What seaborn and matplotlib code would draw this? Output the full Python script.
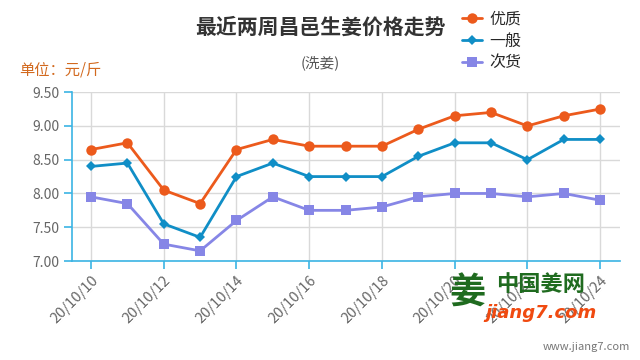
import matplotlib
matplotlib.use("Agg")
import matplotlib.pyplot as plt
import seaborn as sns
import pandas as pd

days = list(range(10, 25))
date_labels = [f"20/10/{d}" for d in days]
youzhi = [8.65, 8.75, 8.05, 7.85, 8.65, 8.80, 8.70, 8.70, 8.70, 8.95, 9.15, 9.20, 9.00, 9.15, 9.25]
yiban = [8.40, 8.45, 7.55, 7.35, 8.25, 8.45, 8.25, 8.25, 8.25, 8.55, 8.75, 8.75, 8.50, 8.80, 8.80]
cihuo = [7.95, 7.85, 7.25, 7.15, 7.60, 7.95, 7.75, 7.75, 7.80, 7.95, 8.00, 8.00, 7.95, 8.00, 7.90]
series_names = ["优质", "一般", "次货"]
y_ticks = [7.00, 7.50, 8.00, 8.50, 9.00, 9.50]

sns.set_theme(style="white")
plt.rcParams['font.family'] = ['Noto Sans CJK SC', 'DejaVu Sans']

df = pd.DataFrame({
    "day": days * 3,
    "price": youzhi + yiban + cihuo,
    "grade": [series_names[0]] * 15 + [series_names[1]] * 15 + [series_names[2]] * 15,
})

colors = {"优质": "#ec5a1c", "一般": "#108ec6", "次货": "#8686e6"}
markers = {"优质": "o", "一般": "D", "次货": "s"}
msizes = {"优质": 7.5, "一般": 5.5, "次货": 7}

fig = plt.figure(figsize=(6.4, 3.6), dpi=100)
ax = fig.add_axes([0.1125, 0.275, 0.8565, 0.469])

for name in series_names:
    sub = df[df["grade"] == name]
    sns.lineplot(data=sub, x="day", y="price", ax=ax, color=colors[name],
                 marker=markers[name], markersize=msizes[name], linewidth=2.0,
                 markeredgewidth=0, label=name, legend=False)

ax.set_xlim(9.477, 24.55)
ax.set_ylim(7.0, 9.5)
xt = days[::2]
ax.set_xticks(xt)
ax.set_xticklabels([date_labels[days.index(d)] for d in xt], rotation=45,
                   ha="right", rotation_mode="anchor", color="#666666", fontsize=10.5)
ax.set_yticks(y_ticks)
ax.set_yticklabels([f"{v:.2f}" for v in y_ticks], color="#666666", fontsize=10)
ax.set_xlabel("")
ax.set_ylabel("")
ax.grid(True, color="#d9d9d9", linewidth=1)
for s in ["top", "right"]:
    ax.spines[s].set_visible(False)
for s in ["left", "bottom"]:
    ax.spines[s].set_color("#3bb4e4")
    ax.spines[s].set_linewidth(1.2)
ax.tick_params(axis="both", which="major", length=6, color="#3bb4e4", width=1.2,
               left=True, bottom=True, pad=3)

fig.text(0.5, 0.925, "最近两周昌邑生姜价格走势", ha="center", va="center",
         fontsize=15, fontweight="bold", color="#333333")
fig.text(0.5, 0.825, "(洗姜)", ha="center", va="center", fontsize=10.5, color="#555555")
fig.text(0.03, 0.805, "单位：元/斤", ha="left", va="center", fontsize=11, color="#d2691e")

h, l = ax.get_legend_handles_labels()
fig.legend(h, l, loc="upper left", bbox_to_anchor=(0.7, 1.01), frameon=False,
           fontsize=11.5, handlelength=1.2, handletextpad=0.5, labelspacing=0.3)

fig.text(0.73, 0.185, "姜", ha="center", va="center", fontsize=26, fontweight="bold", color="#1f6b1f")
fig.text(0.845, 0.21, "中国姜网", ha="center", va="center", fontsize=16, fontweight="bold", color="#1f6b1f")
fig.text(0.845, 0.13, "jiang7.com", ha="center", va="center", fontsize=13, fontweight="bold",
         fontstyle="italic", color="#f04a10", family=["DejaVu Sans"])
fig.text(0.985, 0.035, "www.jiang7.com", ha="right", va="center", fontsize=8, color="#777777")

fig.savefig("out.png", dpi=100)
